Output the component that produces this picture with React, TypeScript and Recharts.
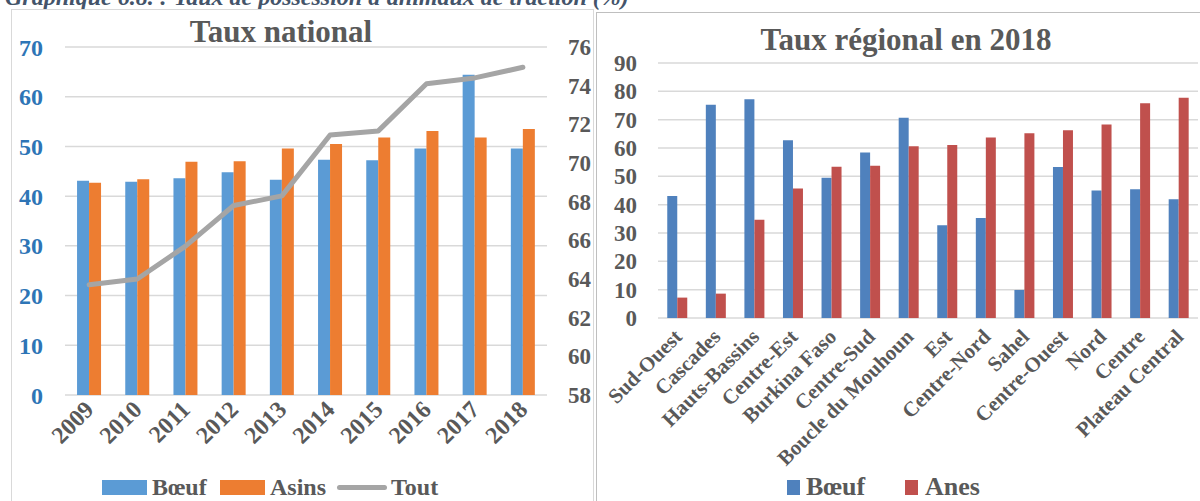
import React from 'react';
import { ComposedChart, BarChart, Bar, Line, XAxis, YAxis, CartesianGrid, Legend } from 'recharts';

const FONT = '"Liberation Serif", "Times New Roman", serif';
const GRAY = '#595959';
const GRID = '#D9D9D9';

// ---- National data ----
const years = ['2009', '2010', '2011', '2012', '2013', '2014', '2015', '2016', '2017', '2018'];
const boeufNational = [43.1, 42.9, 43.6, 44.8, 43.3, 47.3, 47.2, 49.6, 64.4, 49.6];
const asinsNational = [42.7, 43.4, 46.9, 47.0, 49.6, 50.5, 51.8, 53.1, 51.8, 53.5];
const toutNational = [63.7, 64.0, 65.7, 67.8, 68.3, 71.45, 71.66, 74.1, 74.4, 74.95];
const leftTicks = [0, 10, 20, 30, 40, 50, 60, 70];
const rightTicks = [58, 60, 62, 64, 66, 68, 70, 72, 74, 76];

// ---- Regional data ----
const regions = ['Sud-Ouest', 'Cascades', 'Hauts-Bassins', 'Centre-Est', 'Burkina Faso', 'Centre-Sud', 'Boucle du Mouhoun', 'Est', 'Centre-Nord', 'Sahel', 'Centre-Ouest', 'Nord', 'Centre', 'Plateau Central'];
const boeufRegional = [43.1, 75.3, 77.2, 62.7, 49.5, 58.4, 70.7, 32.7, 35.3, 9.9, 53.3, 45.0, 45.4, 41.9];
const anesRegional = [7.2, 8.6, 34.7, 45.7, 53.4, 53.7, 60.6, 61.1, 63.7, 65.2, 66.3, 68.3, 75.8, 77.7];
const regionalTicks = [0, 10, 20, 30, 40, 50, 60, 70, 80, 90];

const nationalData = years.map((y, i) => ({ year: y, boeuf: boeufNational[i], asins: asinsNational[i], tout: toutNational[i] }));
const regionalData = regions.map((r, i) => ({ region: r, boeuf: boeufRegional[i], anes: anesRegional[i] }));

const YearTick = (props: any) => {
  const { x, y, payload } = props;
  const ax = x + 6;
  const ay = y + 16;
  return (
    <text x={ax} y={ay} transform={`rotate(-45, ${ax}, ${ay})`} textAnchor="end" fill={GRAY}
      fontFamily={FONT} fontWeight="bold" fontSize={24}>{payload.value}</text>
  );
};

const RegionTick = (props: any) => {
  const { x, y, payload } = props;
  const ax = x + 6;
  const ay = y + 20;
  return (
    <text x={ax} y={ay} transform={`rotate(-45, ${ax}, ${ay})`} textAnchor="end" fill={GRAY}
      fontFamily={FONT} fontWeight="bold" fontSize={21}>{payload.value}</text>
  );
};

const legendText: React.CSSProperties = {
  position: 'absolute', top: 0, height: 28, lineHeight: '28px', fontFamily: FONT, fontWeight: 'bold', color: GRAY, whiteSpace: 'nowrap',
};

const NationalLegend = () => (
  <div style={{ position: 'relative', width: 581, height: 28 }}>
    <div style={{ position: 'absolute', left: 90, top: 7, width: 45, height: 15, background: '#5B9BD5' }} />
    <span style={{ ...legendText, left: 140, fontSize: 24 }}>Bœuf</span>
    <div style={{ position: 'absolute', left: 208, top: 7, width: 45, height: 15, background: '#ED7D31' }} />
    <span style={{ ...legendText, left: 258, fontSize: 24 }}>Asins</span>
    <div style={{ position: 'absolute', left: 325, top: 12, width: 50, height: 5, borderRadius: 3, background: '#A5A5A5' }} />
    <span style={{ ...legendText, left: 379, fontSize: 24 }}>Tout</span>
  </div>
);

const RegionalLegend = () => (
  <div style={{ position: 'relative', width: 603, height: 28 }}>
    <div style={{ position: 'absolute', left: 190, top: 7, width: 13, height: 15, background: '#4F81BD' }} />
    <span style={{ ...legendText, left: 209, fontSize: 26 }}>Bœuf</span>
    <div style={{ position: 'absolute', left: 308, top: 7, width: 13, height: 15, background: '#C0504D' }} />
    <span style={{ ...legendText, left: 328, fontSize: 26 }}>Anes</span>
  </div>
);

const titleStyle: React.CSSProperties = {
  position: 'absolute', fontFamily: FONT, fontWeight: 'bold', fontSize: 31, lineHeight: '31px', color: GRAY, whiteSpace: 'nowrap', transform: 'translateX(-50%)',
};

export default function App() {
  return (
    <div style={{ position: 'absolute', left: 0, top: 0, width: 1200, height: 501, overflow: 'hidden', background: '#fff' }}>
      <div style={{ position: 'absolute', left: 5, top: -15, fontFamily: FONT, fontStyle: 'italic', fontWeight: 'bold', fontSize: 24, lineHeight: '24px', color: '#44546A', whiteSpace: 'nowrap' }}>
        Graphique 6.8. : Taux de possession d'animaux de traction (%)
      </div>

      {/* Left chart */}
      <div style={{ position: 'absolute', left: 11, top: 9, width: 581, height: 500, border: `1px solid ${GRID}` }}>
        <ComposedChart width={581} height={491} data={nationalData} margin={{ top: 37, right: 0, bottom: 0, left: 0 }}
          barGap={0} barCategoryGap="25%">
          <CartesianGrid yAxisId="left" vertical={false} stroke={GRID} strokeWidth={1.5} />
          <XAxis dataKey="year" height={78} axisLine={false} tickLine={false} tickSize={0} tickMargin={0} interval={0} tick={<YearTick />} />
          <YAxis yAxisId="left" orientation="left" width={53} domain={[0, 70]} ticks={leftTicks} interval={0} axisLine={false} tickLine={false}
            tickSize={0} tickMargin={22} tick={{ fill: '#2E75B6', fontSize: 24, fontWeight: 'bold', fontFamily: FONT }} />
          <YAxis yAxisId="right" orientation="right" width={46} domain={[58, 76]} ticks={rightTicks} interval={0} axisLine={false} tickLine={false}
            tickSize={0} tickMargin={21} tick={{ fill: GRAY, fontSize: 23, fontWeight: 'bold', fontFamily: FONT }} />
          <Bar yAxisId="left" dataKey="boeuf" name="Bœuf" fill="#5B9BD5" isAnimationActive={false} />
          <Bar yAxisId="left" dataKey="asins" name="Asins" fill="#ED7D31" isAnimationActive={false} />
          <Line yAxisId="right" dataKey="tout" name="Tout" type="linear" stroke="#A5A5A5" strokeWidth={5} dot={false}
            strokeLinecap="round" strokeLinejoin="round" isAnimationActive={false} />
          <Legend verticalAlign="bottom" height={28} wrapperStyle={{ left: 0, bottom: 0, width: 581, height: 28 }} content={<NationalLegend />} />
        </ComposedChart>
        <div style={{ ...titleStyle, left: 269, top: 6 }}>Taux national</div>
      </div>

      {/* Right chart */}
      <div style={{ position: 'absolute', left: 596, top: 12, width: 610, height: 500, borderLeft: '1px solid #BFBFBF', borderTop: '1px solid #BFBFBF' }}>
        <BarChart width={603} height={488} data={regionalData} margin={{ top: 50, right: 2, bottom: 0, left: 0 }}
          barGap={0} barCategoryGap="24%">
          <CartesianGrid vertical={false} stroke={GRID} strokeWidth={1.5} />
          <XAxis dataKey="region" height={155} axisLine={false} tickLine={false} tickSize={0} tickMargin={0} interval={0} tick={<RegionTick />} />
          <YAxis width={61} domain={[0, 90]} ticks={regionalTicks} interval={0} axisLine={false} tickLine={false}
            tickSize={0} tickMargin={21} tick={{ fill: GRAY, fontSize: 23, fontWeight: 'bold', fontFamily: FONT }} />
          <Bar dataKey="boeuf" name="Bœuf" fill="#4F81BD" isAnimationActive={false} />
          <Bar dataKey="anes" name="Anes" fill="#C0504D" isAnimationActive={false} />
          <Legend verticalAlign="bottom" height={28} wrapperStyle={{ left: 0, bottom: 0, width: 603, height: 28 }} content={<RegionalLegend />} />
        </BarChart>
        <div style={{ ...titleStyle, left: 309, top: 11 }}>Taux régional en 2018</div>
      </div>
    </div>
  );
}
